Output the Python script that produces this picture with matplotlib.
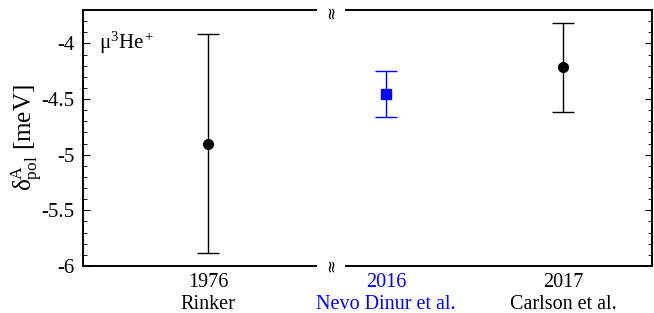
import matplotlib
matplotlib.use("Agg")
import matplotlib.pyplot as plt
from matplotlib.ticker import MultipleLocator, FormatStrFormatter

plt.rcParams['font.family'] = ['Liberation Serif', 'DejaVu Serif']
plt.rcParams['mathtext.fontset'] = 'custom'
plt.rcParams['mathtext.rm'] = 'Liberation Serif'
plt.rcParams['mathtext.it'] = 'Liberation Serif:italic'
plt.rcParams['axes.unicode_minus'] = False

# data
years = ["1976", "2016", "2017"]
authors = ["Rinker", "Nevo Dinur et al.", "Carlson et al."]
values = [-4.90, -4.455, -4.215]
errors = [0.98, 0.21, 0.40]
colors = ["black", "blue", "black"]
markers = ["o", "s", "o"]
pos = [0, 1, 2]

W, H = 654, 313
fig = plt.figure(figsize=(W / 100, H / 100), dpi=100)
bot, top = 266, 10
ax1 = fig.add_axes([83 / W, (H - bot) / H, (316 - 83) / W, (bot - top) / H])
ax2 = fig.add_axes([346 / W, (H - bot) / H, (652 - 346) / W, (bot - top) / H])

for ax in (ax1, ax2):
    ax.set_ylim(-6, -3.7)
    for i in range(3):
        ax.errorbar(pos[i], values[i], yerr=errors[i], fmt=markers[i], color=colors[i],
                    ms=7 if markers[i] == "o" else 7.5, capsize=8, elinewidth=1.0,
                    capthick=1.0, ecolor=colors[i])
    ax.yaxis.set_major_locator(MultipleLocator(0.5))
    ax.yaxis.set_minor_locator(MultipleLocator(0.1))
    ax.yaxis.set_major_formatter(FormatStrFormatter('%g'))
    for s in ax.spines.values():
        s.set_linewidth(1.4)
    ax.tick_params(axis='x', length=0, pad=5)

ax1.set_xlim(-0.706, 0.61)
ax2.set_xlim(0.774, 2.503)
ax1.spines['right'].set_visible(False)
ax2.spines['left'].set_visible(False)

ax1.tick_params(axis='y', which='both', direction='in', left=True, right=False,
                labelsize=15, pad=6)
ax1.tick_params(axis='y', which='major', length=5)
ax1.tick_params(axis='y', which='minor', length=3)
ax2.tick_params(axis='y', which='both', direction='in', left=False, right=True,
                labelleft=False, labelright=False)
ax2.tick_params(axis='y', which='major', length=5)
ax2.tick_params(axis='y', which='minor', length=3)

ax1.set_xticks([pos[0]])
ax1.set_xticklabels([years[0] + "\n" + authors[0]], fontsize=14.5, linespacing=1.2)
ax2.set_xticks(pos[1:])
ax2.set_xticklabels([years[i] + "\n" + authors[i] for i in (1, 2)], fontsize=14.5,
                    linespacing=1.2)
for lbl, c in zip(ax2.get_xticklabels(), colors[1:]):
    lbl.set_color(c)

ax1.set_ylabel("δ$^{\\rm A}_{\\rm pol}$ [meV]", fontsize=18)
ax1.yaxis.set_label_coords(-0.165, 0.50)
ax1.text(0.07, 0.87, "μ$^3$He$^+$", transform=ax1.transAxes, fontsize=15,
         va='center', ha='left')

# break marks
for yy in (H - 12, H - 265):
    fig.text(331 / W, yy / H, "≈", rotation=90, ha='center', va='center',
             fontsize=12, family='DejaVu Sans')

fig.savefig("out.png", dpi=100)
